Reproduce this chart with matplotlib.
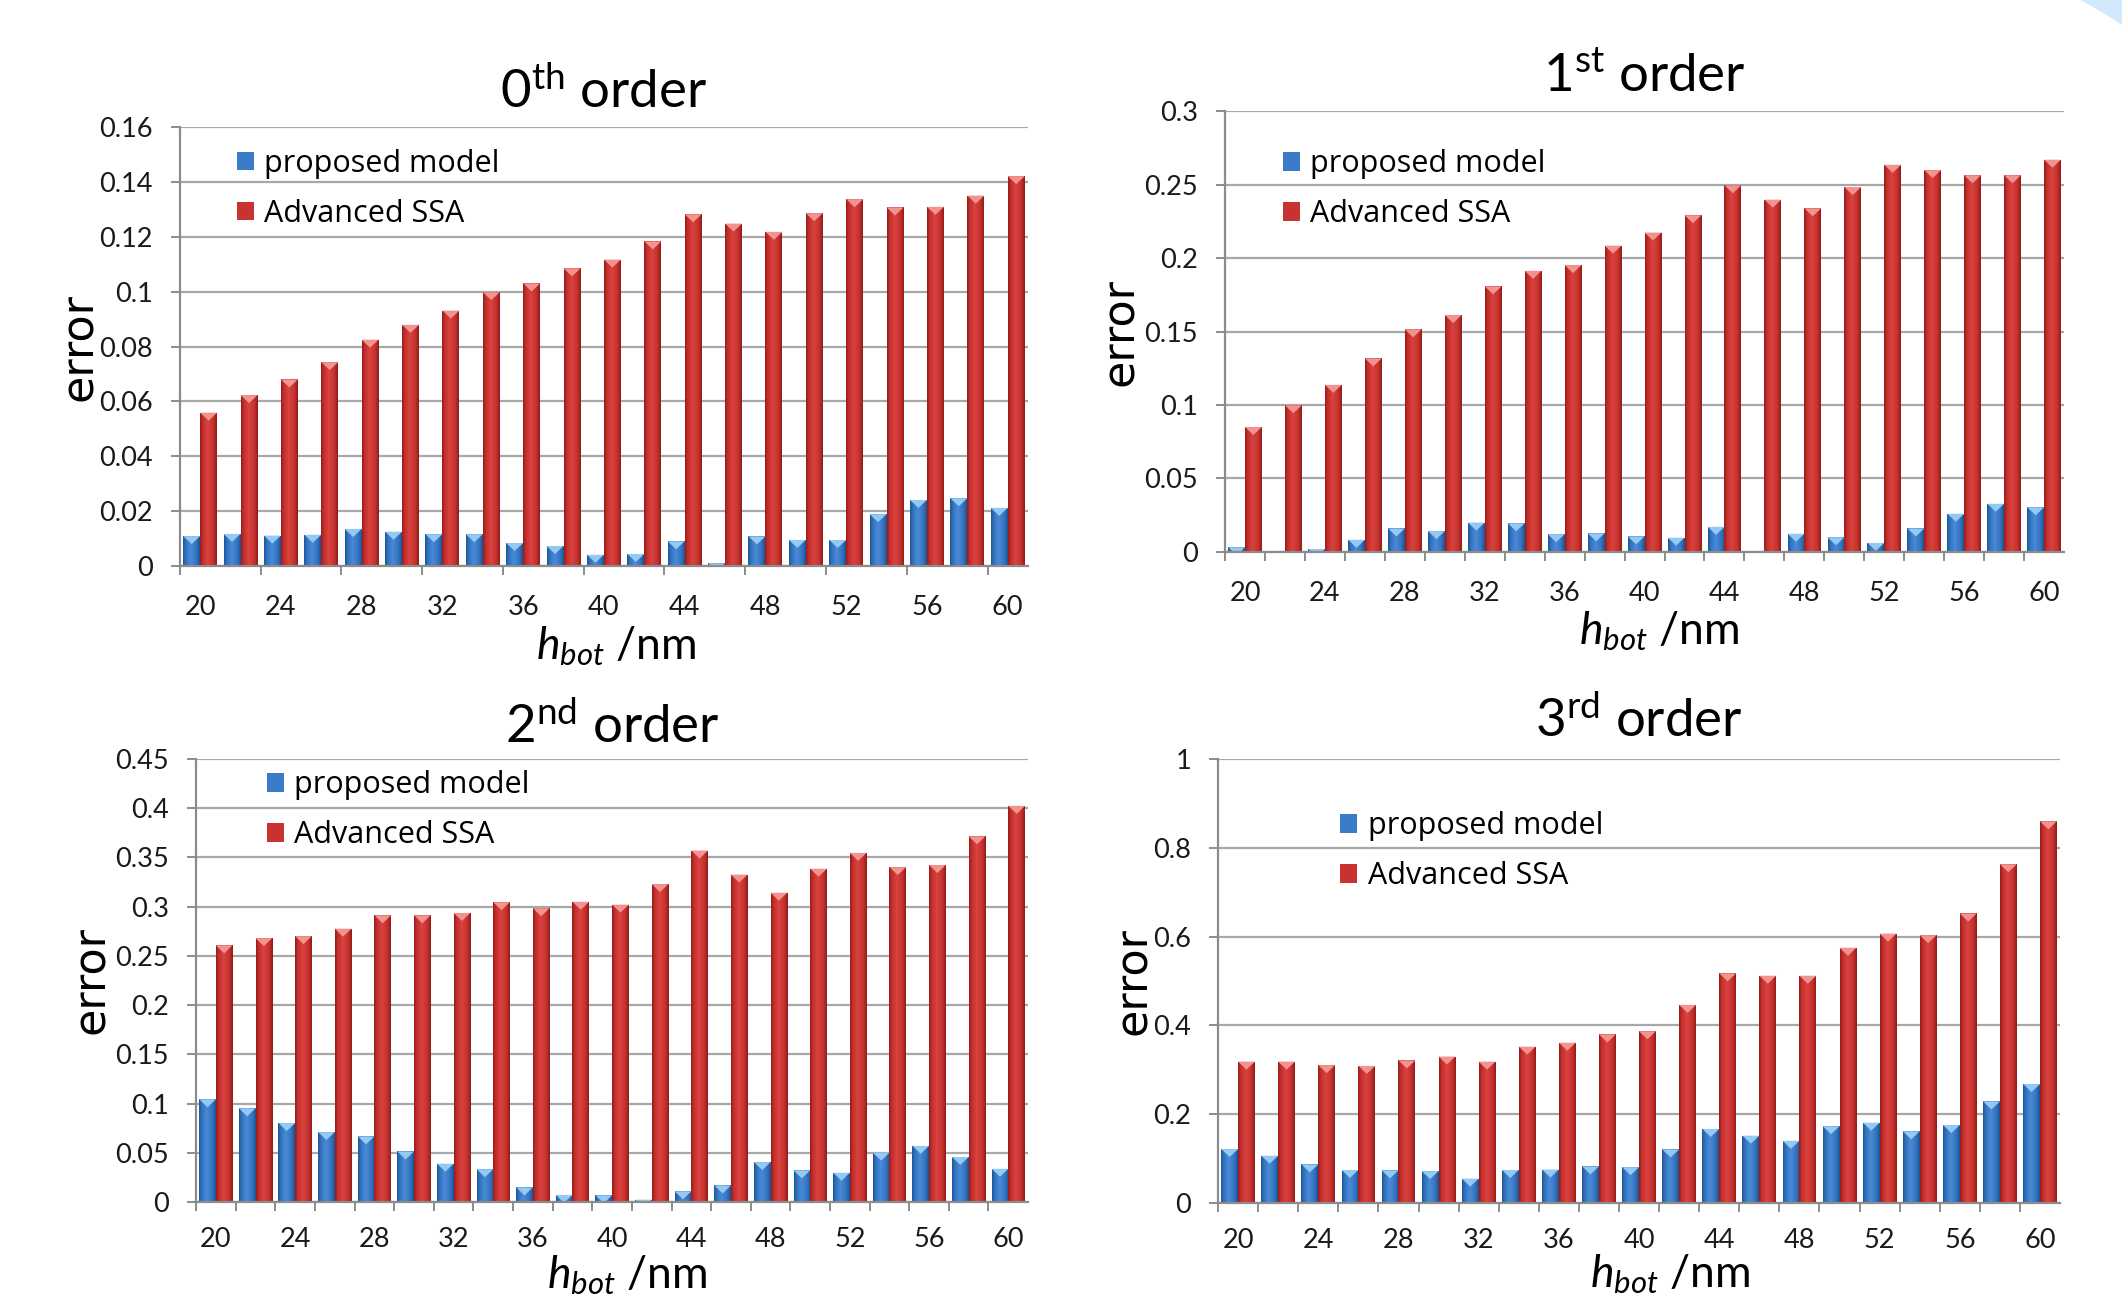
import numpy as np
import matplotlib
matplotlib.use("Agg")
import matplotlib.pyplot as plt
from matplotlib.colors import LinearSegmentedColormap
from matplotlib.patches import Polygon, Rectangle, Wedge
from matplotlib.ticker import FixedLocator, FuncFormatter, NullFormatter

# h_bot values (nm), one bar pair per value
h_bot = [20, 22, 24, 26, 28, 30, 32, 34, 36, 38, 40,
         42, 44, 46, 48, 50, 52, 54, 56, 58, 60]

# 0th order
proposed_0 = [0.0109, 0.0117, 0.0111, 0.0114, 0.0135, 0.0125, 0.0116, 0.0116, 0.0084, 0.0073, 0.0041,
              0.0044, 0.0090, 0.0010, 0.0108, 0.0095, 0.0095, 0.0189, 0.0241, 0.0247, 0.0212]
ssa_0 = [0.0559, 0.0623, 0.0680, 0.0743, 0.0825, 0.0879, 0.0931, 0.0998, 0.1030, 0.1085, 0.1117,
         0.1183, 0.1282, 0.1248, 0.1218, 0.1286, 0.1337, 0.1307, 0.1309, 0.1350, 0.1421]

# 1st order
proposed_1 = [0.0032, 0.0000, 0.0020, 0.0083, 0.0160, 0.0142, 0.0200, 0.0195, 0.0121, 0.0127, 0.0106,
              0.0097, 0.0171, 0.0000, 0.0124, 0.0100, 0.0062, 0.0160, 0.0260, 0.0328, 0.0304]
ssa_1 = [0.0850, 0.0998, 0.1137, 0.1317, 0.1515, 0.1612, 0.1807, 0.1913, 0.1952, 0.2084, 0.2173,
         0.2291, 0.2495, 0.2397, 0.2338, 0.2483, 0.2634, 0.2598, 0.2563, 0.2563, 0.2669]

# 2nd order
proposed_2 = [0.1043, 0.0951, 0.0802, 0.0710, 0.0666, 0.0513, 0.0389, 0.0333, 0.0148, 0.0072, 0.0068,
              0.0024, 0.0108, 0.0168, 0.0405, 0.0321, 0.0297, 0.0501, 0.0570, 0.0457, 0.0337]
ssa_2 = [0.2607, 0.2680, 0.2700, 0.2776, 0.2912, 0.2912, 0.2936, 0.3045, 0.2984, 0.3049, 0.3020,
         0.3229, 0.3570, 0.3325, 0.3141, 0.3385, 0.3546, 0.3401, 0.3422, 0.3714, 0.4023]

# 3rd order
proposed_3 = [0.1216, 0.1065, 0.0870, 0.0745, 0.0736, 0.0719, 0.0550, 0.0745, 0.0754, 0.0825, 0.0807,
              0.1207, 0.1668, 0.1517, 0.1402, 0.1730, 0.1810, 0.1615, 0.1757, 0.2289, 0.2680]
ssa_3 = [0.3185, 0.3185, 0.3106, 0.3088, 0.3212, 0.3300, 0.3185, 0.3523, 0.3611, 0.3798, 0.3869,
         0.4463, 0.5173, 0.5120, 0.5120, 0.5750, 0.6069, 0.6034, 0.6522, 0.7631, 0.8598]

series_labels = ["proposed model", "Advanced SSA"]
titles = ["0$^{\\mathrm{th}}$ order", "1$^{\\mathrm{st}}$ order",
          "2$^{\\mathrm{nd}}$ order", "3$^{\\mathrm{rd}}$ order"]

plt.rcParams["mathtext.fontset"] = "custom"
plt.rcParams["mathtext.rm"] = "Lato"
plt.rcParams["mathtext.it"] = "Lato:italic"
plt.rcParams["mathtext.bf"] = "Lato:bold"
plt.rcParams["font.family"] = ["Lato", "DejaVu Sans"]

W, H, DPI = 2122, 1300, 100
fig = plt.figure(figsize=(W / DPI, H / DPI), dpi=DPI)

# light blue slide decoration in the top-right corner
fig.add_artist(Wedge((17.95, 7.73), 9.0, 0, 90, width=3.0,
                     transform=fig.dpi_scale_trans, color="#d2e9fd", zorder=0))

blue_cmap = LinearSegmentedColormap.from_list(
    "b", [(0, "#1f5596"), (0.15, "#3071bd"), (0.45, "#4a8ad6"), (0.8, "#3273bf"), (1, "#1d5292")])
red_cmap = LinearSegmentedColormap.from_list(
    "r", [(0, "#971c1b"), (0.15, "#c02e2b"), (0.45, "#da433f"), (0.8, "#c4312e"), (1, "#921a19")])
blue_mid, red_mid = "#3a7cc8", "#c8322f"

# bottom row: x label sits on the lower edge of the figure
panels = [
    dict(prop=proposed_0, ssa=ssa_0, ymax=0.16, step=0.02, every=2,
         pos=[0.0848, 0.5646, 0.3996, 0.3377], leg=(0.067, 0.950),
         ylab_x=-0.119, xlab=(0.515, -0.182, "center"), tick_pad=21, title_y=1 - 92 / H),
    dict(prop=proposed_1, ssa=ssa_1, ymax=0.3, step=0.05, every=1,
         pos=[0.5773, 0.5754, 0.3954, 0.3392], leg=(0.069, 0.913),
         ylab_x=-0.125, xlab=(0.517, -0.180, "center"), tick_pad=21, title_y=1 - 77 / H),
    dict(prop=proposed_2, ssa=ssa_2, ymax=0.45, step=0.05, every=1,
         pos=[0.0924, 0.0754, 0.3921, 0.3408], leg=(0.085, 0.974),
         ylab_x=-0.126, xlab=(0.518, -0.2145, "bottom"), tick_pad=18, title_y=1 - 727 / H),
    dict(prop=proposed_3, ssa=ssa_3, ymax=1.0, step=0.2, every=1,
         pos=[0.574, 0.0746, 0.3968, 0.3415], leg=(0.145, 0.882),
         ylab_x=-0.100, xlab=(0.537, -0.2105, "bottom"), tick_pad=18, title_y=1 - 721 / H),
]

grad = np.linspace(0, 1, 64).reshape(1, -1)


def shaded_bars(ax, x, heights, width, cmap, mid, cap_color, cap_h):
    bars = ax.bar(x, heights, width=width, align="edge", color=mid, zorder=2, linewidth=0)
    for rect in bars:
        x0, h = rect.get_x(), rect.get_height()
        if h <= 0:
            continue
        x1 = x0 + rect.get_width()
        im = ax.imshow(grad, extent=(x0, x1, 0, h), aspect="auto", cmap=cmap,
                       vmin=0, vmax=1, interpolation="bilinear", zorder=2.1)
        im.set_clip_path(rect)
        cap = Polygon([(x0, h), (x1, h), ((x0 + x1) / 2, h - cap_h)], closed=True,
                      facecolor=cap_color, edgecolor="none", zorder=2.2)
        cap.set_clip_path(rect)
        ax.add_patch(cap)


idx = np.arange(len(h_bot))
for p, title in zip(panels, titles):
    ax = fig.add_axes(p["pos"])
    ax_h_px = p["pos"][3] * H
    cap_h = 8.0 / ax_h_px * p["ymax"]
    shaded_bars(ax, idx - 0.42, p["prop"], 0.42, blue_cmap, blue_mid, "#93c9f3", cap_h)
    shaded_bars(ax, idx, p["ssa"], 0.42, red_cmap, red_mid, "#f39390", cap_h)

    ax.set_xlim(-0.5, len(h_bot) - 0.5)
    ax.set_ylim(0, p["ymax"])

    # grid and spines
    ax.set_axisbelow(True)
    ax.yaxis.grid(True, color="#a8a8a8", linewidth=1.6, zorder=0)
    for s in ("top", "right"):
        ax.spines[s].set_visible(False)
    for s in ("left", "bottom"):
        ax.spines[s].set_color("#8c8c8c")
        ax.spines[s].set_linewidth(1.6)

    # y axis
    yt = np.arange(0, p["ymax"] + p["step"] / 2, p["step"])
    ax.yaxis.set_major_locator(FixedLocator(yt))
    ax.yaxis.set_major_formatter(FuncFormatter(lambda v, _: f"{round(v, 4):g}"))
    ax.tick_params(axis="y", length=6.5, width=1.4, color="#8c8c8c", pad=13,
                   labelsize=19.5, labelcolor="#1a1a1a")

    # x axis: ticks at category boundaries, labels every other category
    ax.xaxis.set_major_locator(FixedLocator(np.arange(-0.5, len(h_bot) - 0.5, p["every"])))
    ax.xaxis.set_major_formatter(NullFormatter())
    ax.xaxis.set_minor_locator(FixedLocator(idx[::2]))
    ax.set_xticklabels([str(v) for v in h_bot[::2]], minor=True)
    ax.tick_params(axis="x", which="major", length=6.5, width=1.4, color="#8c8c8c")
    ax.tick_params(axis="x", which="minor", length=0, pad=p["tick_pad"], labelsize=19.5,
                   labelcolor="#1a1a1a")

    ax.set_ylabel("error", family="DejaVu Sans", fontsize=32, va="center")
    ax.yaxis.set_label_coords(p["ylab_x"], 0.5)
    lx, ly, lva = p["xlab"]
    ax.set_xlabel("$h_{bot}$ /nm", fontsize=32, va=lva)
    ax.xaxis.set_label_coords(lx, ly)

    cx = p["pos"][0] + p["pos"][2] / 2
    fig.text(cx, p["title_y"], title, ha="center", va="center", fontsize=38)

    handles = [Rectangle((0, 0), 1, 1, facecolor=blue_mid),
               Rectangle((0, 0), 1, 1, facecolor=red_mid)]
    ax.legend(handles, series_labels, loc="upper left", bbox_to_anchor=p["leg"],
              frameon=False, prop={"family": "Open Sans", "size": 22},
              handlelength=0.55, handleheight=0.55, handletextpad=0.35,
              labelspacing=0.65, borderpad=0, borderaxespad=0)

fig.savefig("out.png", dpi=DPI, facecolor="white")
